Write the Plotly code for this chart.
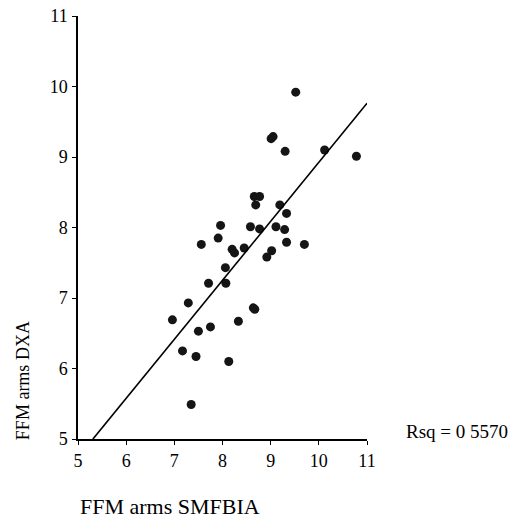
import plotly.graph_objects as go

# Data
smfbia_x = [9.52, 9.01, 9.05, 9.30, 10.12, 10.78, 8.66, 8.77, 8.69, 9.19,
            9.33, 7.96, 8.58, 8.77, 9.11, 9.29, 7.91, 7.56, 9.33, 9.70,
            8.20, 8.25, 8.45, 9.02, 8.92, 8.06, 7.71, 8.07, 7.29, 6.96,
            8.64, 8.67, 8.33, 7.50, 7.75, 7.17, 7.45, 8.13, 7.35]
dxa_y = [9.92, 9.26, 9.29, 9.08, 9.10, 9.01, 8.44, 8.44, 8.32, 8.32,
         8.20, 8.03, 8.01, 7.98, 8.01, 7.97, 7.85, 7.76, 7.79, 7.76,
         7.69, 7.64, 7.71, 7.67, 7.58, 7.43, 7.21, 7.21, 6.93, 6.69,
         6.86, 6.84, 6.67, 6.53, 6.59, 6.25, 6.17, 6.10, 5.49]

fit_intercept = 0.555
fit_slope = 0.837
fit_x_range = [5.31, 11.0]
fit_y = [fit_intercept + fit_slope * v for v in fit_x_range]

tick_vals = [5, 6, 7, 8, 9, 10, 11]
tick_text = ["5", "6", "7", "8", "9", "10", "11"]

x_title = "FFM arms SMFBIA"
y_title = "FFM arms DXA"
rsq_text = "Rsq = 0 5570"

FONT = "Liberation Serif, Times New Roman, serif"

fig = go.Figure()
fig.add_trace(go.Scatter(
    x=smfbia_x, y=dxa_y, mode="markers",
    marker=dict(symbol="circle", size=9, color="#151515",
                line=dict(width=0)),
    showlegend=False, hoverinfo="x+y"))
fig.add_trace(go.Scatter(
    x=fit_x_range, y=fit_y, mode="lines",
    line=dict(color="black", width=1.6),
    showlegend=False, hoverinfo="skip"))

axis_common = dict(
    range=[5, 11], tickmode="array", tickvals=tick_vals, ticktext=tick_text,
    showgrid=False, zeroline=False, showline=True, linecolor="black",
    linewidth=1.5, ticks="outside", ticklen=4, tickwidth=1.2,
    tickcolor="black", tickfont=dict(family=FONT, size=18, color="black"),
    ticklabeloverflow="allow", automargin=False, fixedrange=True)

fig.update_layout(
    width=518, height=526,
    margin=dict(l=78, r=151, t=16, b=87),
    plot_bgcolor="white", paper_bgcolor="white",
    font=dict(family=FONT, color="black"),
    xaxis=dict(**axis_common, ticklabelstandoff=1),
    yaxis=dict(**axis_common, ticklabelstandoff=1),
    annotations=[
        dict(text=x_title, xref="paper", yref="paper", x=0.0, y=-0.16,
             xanchor="left", yanchor="middle", showarrow=False,
             font=dict(family=FONT, size=22, color="black")),
        dict(text=y_title, xref="paper", yref="paper", x=-0.192, y=0.138,
             xanchor="center", yanchor="middle", textangle=-90,
             showarrow=False,
             font=dict(family=FONT, size=18, color="black")),
        dict(text=rsq_text, xref="paper", yref="paper", x=1.129, y=0.017,
             xanchor="left", yanchor="middle", showarrow=False,
             font=dict(family=FONT, size=19, color="black")),
    ],
)

fig.write_html(
    "out.html",
    config={"displayModeBar": False},
    post_script="document.body.style.margin='0';"
                "document.body.style.overflow='hidden';",
)
